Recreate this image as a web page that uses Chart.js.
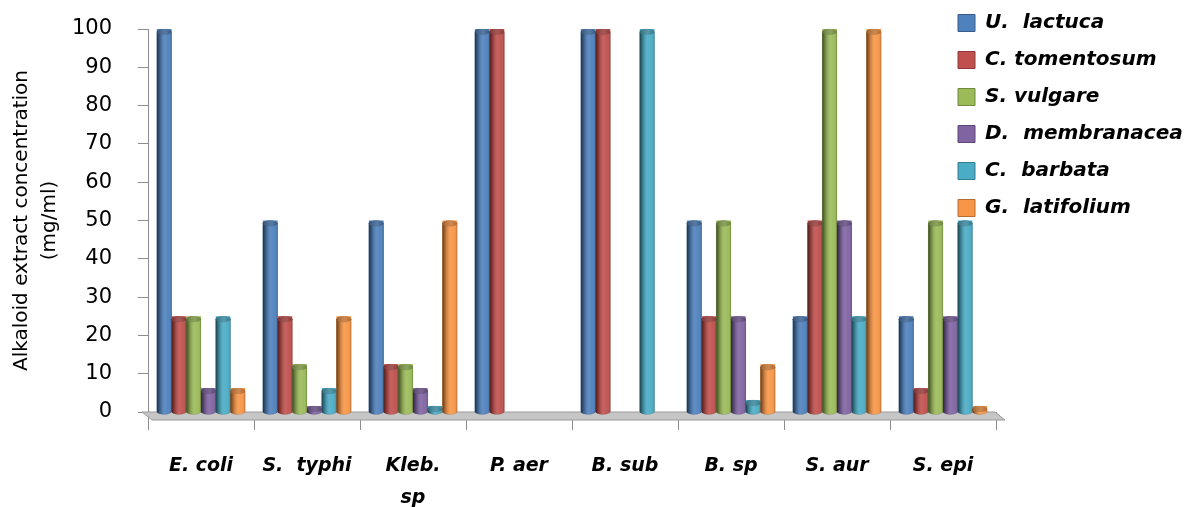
<!DOCTYPE html>
<html>
<head>
<meta charset="utf-8">
<script src="https://cdn.jsdelivr.net/npm/chart.js@4.4.0/dist/chart.umd.min.js"></script>
<style>
  html, body { margin: 0; padding: 0; background: #ffffff; }
  #wrap { width: 1197px; height: 507px; }
</style>
</head>
<body>
<div id="wrap"><canvas id="chart" width="1197" height="507"></canvas></div>
<script>
// Bacterial strains tested (x axis)
const categories = ['E. coli', 'S.  typhi', ['Kleb.', 'sp'], 'P. aer', 'B. sub', 'B. sp', 'S. aur', 'S. epi'];

// Plant extracts (one series each)
const seriesNames = ['U.  lactuca', 'C. tomentosum', 'S. vulgare', 'D.  membranacea', 'C.  barbata', 'G.  latifolium'];

// Alkaloid extract concentration (mg/ml) per strain
const uLactuca     = [100, 50,   50,   100, 100, 50,   25,  25];
const cTomentosum  = [25,  25,   12.5, 100, 100, 25,   50,  6.25];
const sVulgare     = [25,  12.5, 12.5, 0,   0,   50,   100, 50];
const dMembranacea = [6.25, 1.56, 6.25, 0,  0,   25,   50,  25];
const cBarbata     = [25,  6.25, 1.56, 0,   100, 3.13, 25,  50];
const gLatifolium  = [6.25, 25,  50,   0,   0,   12.5, 100, 1.56];

// Value axis
const yMin = 0;
const yMax = 100;
const yStep = 10;
const yTitle = ['Alkaloid extract concentration', '(mg/ml)'];

const seriesValues = [uLactuca, cTomentosum, sVulgare, dMembranacea, cBarbata, gLatifolium];
const seriesColors = ['#4F81BD', '#C0504D', '#9BBB59', '#8064A2', '#4BACC6', '#F79646'];
const seriesEdges  = ['#385D8A', '#8C3836', '#71893F', '#5C4776', '#357D91', '#B66D31'];

const FONT = "'DejaVu Sans', sans-serif";
const AXIS_GREY = '#8c8c8c';

function mix(hex, f) {
  const n = parseInt(hex.slice(1), 16);
  const t = f < 0 ? 0 : 255, p = Math.abs(f);
  const ch = [n >> 16, (n >> 8) & 255, n & 255].map(c => Math.round(c + (t - c) * p));
  return 'rgb(' + ch.join(',') + ')';
}

// Grey floor slab under the bars
const floorPlugin = {
  id: 'floor',
  beforeDatasetsDraw(chart) {
    const { ctx, chartArea } = chart;
    const y0 = chart.scales.y.getPixelForValue(0);
    const l = chartArea.left, r = chartArea.right;
    ctx.save();
    ctx.beginPath();
    ctx.moveTo(l - 6, y0);
    ctx.lineTo(r - 1, y0);
    ctx.lineTo(r + 9, y0 + 8);
    ctx.lineTo(l + 4, y0 + 8);
    ctx.closePath();
    ctx.fillStyle = '#c6c6c6';
    ctx.fill();
    ctx.strokeStyle = '#999999';
    ctx.lineWidth = 1;
    ctx.stroke();
    ctx.restore();
  }
};

// Cylinder shading on top of each bar element
const cylinderPlugin = {
  id: 'cylinders',
  afterDatasetsDraw(chart) {
    const ctx = chart.ctx;
    chart.data.datasets.forEach((ds, di) => {
      const meta = chart.getDatasetMeta(di);
      if (meta.hidden) return;
      const col = seriesColors[di];
      meta.data.forEach((bar, i) => {
        if (!(ds.data[i] > 0)) return;
        const { x, y, base, width } = bar.getProps(['x', 'y', 'base', 'width'], true);
        const rx = width / 2;
        const ry = 3;
        const top = y + ry;
        ctx.save();
        ctx.beginPath();
        ctx.moveTo(x - rx, top);
        ctx.lineTo(x - rx, base);
        ctx.ellipse(x, base, rx, ry, 0, Math.PI, 0, true);
        ctx.lineTo(x + rx, top);
        ctx.ellipse(x, top, rx, ry, 0, 0, Math.PI, true);
        ctx.closePath();
        ctx.fillStyle = col;
        ctx.fill();
        const g = ctx.createLinearGradient(x - rx, 0, x + rx, 0);
        g.addColorStop(0, 'rgba(0,0,0,0.6)');
        g.addColorStop(0.22, 'rgba(0,0,0,0.25)');
        g.addColorStop(0.55, 'rgba(255,255,255,0.10)');
        g.addColorStop(0.8, 'rgba(255,255,255,0.04)');
        g.addColorStop(1, 'rgba(0,0,0,0.2)');
        ctx.fillStyle = g;
        ctx.fill();
        ctx.strokeStyle = 'rgba(0,0,0,0.12)';
        ctx.lineWidth = 0.8;
        ctx.stroke();
        // top cap
        ctx.beginPath();
        ctx.ellipse(x, top, rx, ry, 0, 0, Math.PI * 2);
        ctx.fillStyle = mix(col, -0.2);
        ctx.fill();
        const g2 = ctx.createLinearGradient(x - rx, 0, x + rx, 0);
        g2.addColorStop(0, 'rgba(0,0,0,0.25)');
        g2.addColorStop(0.6, 'rgba(255,255,255,0.12)');
        g2.addColorStop(1, 'rgba(0,0,0,0.1)');
        ctx.fillStyle = g2;
        ctx.fill();
        ctx.restore();
      });
    });
  }
};

// Place the vertical legend in the upper right corner
const legendPlacer = {
  id: 'legendPlacer',
  afterLayout(chart) {
    const lg = chart.legend;
    if (!lg) return;
    const w = lg.width, h = lg.height;
    lg.left = 941;
    lg.top = -4;
    lg.right = lg.left + w;
    lg.bottom = lg.top + h;
  }
};

const datasets = seriesNames.map((name, k) => ({
  label: name,
  data: seriesValues[k],
  backgroundColor: seriesColors[k],
  borderColor: seriesEdges[k],
  borderWidth: 0,
  categoryPercentage: 0.833,
  barPercentage: 1.0
}));

new Chart(document.getElementById('chart'), {
  type: 'bar',
  data: { labels: categories, datasets },
  plugins: [floorPlugin, cylinderPlugin, legendPlacer],
  options: {
    responsive: false,
    animation: false,
    devicePixelRatio: 1,
    layout: { padding: { top: 29, right: 201, left: 0, bottom: 0 } },
    plugins: {
      tooltip: { enabled: false },
      legend: {
        position: 'chartArea',
        fullSize: false,
        align: 'start',
        labels: {
          boxWidth: 17,
          boxHeight: 17,
          padding: 17,
          color: '#000',
          font: { family: FONT, size: 20, style: 'italic', weight: 'bold' },
          generateLabels(chart) {
            const items = Chart.defaults.plugins.legend.labels.generateLabels(chart);
            items.forEach((it, i) => { it.strokeStyle = seriesEdges[i]; it.lineWidth = 1; });
            return items;
          }
        }
      }
    },
    scales: {
      x: {
        ticks: {
          color: '#000',
          padding: 20,
          maxRotation: 0,
          autoSkip: false,
          font: { family: FONT, size: 19, style: 'italic', weight: 'bold', lineHeight: '32px' }
        },
        grid: { drawOnChartArea: false, drawTicks: true, tickLength: 18, color: AXIS_GREY, offset: true },
        border: { display: false },
        afterFit(s) { s.height = 95; }
      },
      y: {
        min: yMin,
        max: yMax,
        ticks: { stepSize: yStep, padding: 26, color: '#000', font: { family: FONT, size: 21 } },
        grid: { drawOnChartArea: false, drawTicks: true, tickLength: 10, color: AXIS_GREY },
        border: { display: true, color: AXIS_GREY, width: 1 },
        title: {
          display: true,
          text: yTitle,
          color: '#000',
          font: { family: FONT, size: 20, lineHeight: '28px' },
          padding: { top: 8, bottom: 0 }
        },
        afterFit(s) { s.width = 148; s.paddingTop = 0; s.paddingBottom = 0; }
      }
    }
  }
});
</script>
</body>
</html>
